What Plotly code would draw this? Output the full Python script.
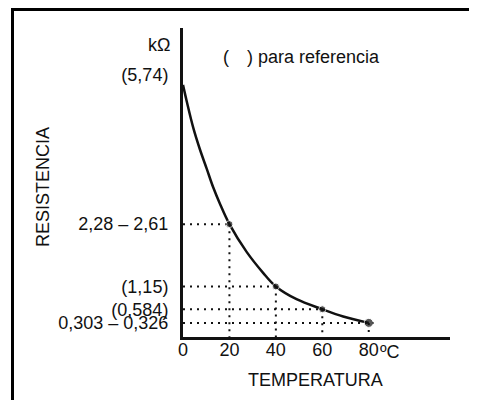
import plotly.graph_objects as go

# ---- data ----
curve_t = [0, 1.6, 4.4, 7.3, 10.2, 13.0, 15.9, 20, 27.4, 34.5, 40, 48.9, 60, 69, 80]
curve_r = [5.54, 5.18, 4.60, 4.12, 3.70, 3.29, 2.93, 2.48, 1.87, 1.41, 1.11, 0.83, 0.61, 0.45, 0.31]

point_t = [20, 40, 60, 80]
point_r = [2.48, 1.11, 0.61, 0.31]
hline_end = [20, 40, 60, 82.5]

y_tickvals = [5.76, 2.48, 1.11, 0.61, 0.31]
y_ticktext = ["(5,74)", "2,28 – 2,61", "(1,15)", "(0,584)", "0,303 – 0,326"]
x_tickvals = [0, 20, 40, 60, 80]
x_ticktext = ["0", "20", "40", "60", "80"]

FONT = "Liberation Sans, Arial, sans-serif"
INK = "#111111"
FS = 18

fig = go.Figure()

# dotted guide lines
for t, r, xe in zip(point_t, point_r, hline_end):
    fig.add_trace(go.Scatter(x=[0, xe], y=[r, r], mode="lines",
                             line=dict(color=INK, width=2, dash="2px,5px"),
                             hoverinfo="skip", showlegend=False))
    fig.add_trace(go.Scatter(x=[t, t], y=[r, 0], mode="lines",
                             line=dict(color=INK, width=2, dash="2px,5px"),
                             hoverinfo="skip", showlegend=False))

# curve
fig.add_trace(go.Scatter(x=curve_t, y=curve_r, mode="lines",
                         line=dict(color=INK, width=2.5, shape="spline", smoothing=1.0),
                         showlegend=False))
# points
fig.add_trace(go.Scatter(x=point_t, y=point_r, mode="markers",
                         marker=dict(color=INK, size=[7, 7, 7, 9]),
                         showlegend=False))

# page has an 8px body margin: work in screen pixels, convert to figure pixels
OFF = 8
W, H = 477 - OFF, 400 - OFF
L, T = 183 - OFF, 28 - OFF
R = W - (450 - OFF)
B = H - (337 - OFF)
pw, ph = W - L - R, H - T - B


def px(xs):
    return (xs - OFF - L) / pw


def py(ys):
    return (H - B - (ys - OFF)) / ph


fig.update_layout(
    width=W, height=H,
    margin=dict(l=L, r=R, t=T, b=B),
    paper_bgcolor="white", plot_bgcolor="white",
    font=dict(family=FONT, size=FS, color=INK),
    xaxis=dict(range=[0, 115], showgrid=False, zeroline=False,
               showline=True, linecolor=INK, linewidth=2.5,
               tickvals=x_tickvals, ticktext=x_ticktext, ticks="",
               ticklabelstandoff=-5, tickfont=dict(size=FS)),
    yaxis=dict(range=[0, 6.79], showgrid=False, zeroline=False,
               showline=True, linecolor=INK, linewidth=3,
               tickvals=y_tickvals, ticktext=y_ticktext, ticks="",
               ticklabelstandoff=8, tickfont=dict(size=FS)),
    showlegend=False,
)

ann = [
    dict(text="ºC", x=px(378), y=py(352), xanchor="left", yanchor="middle"),
    dict(text="TEMPERATURA", x=px(315), y=py(380), xanchor="center", yanchor="middle"),
    dict(text="RESISTENCIA", x=px(43), y=py(187), xanchor="center", yanchor="middle",
         textangle=-90),
    dict(text="kΩ", x=px(172), y=py(45), xanchor="right", yanchor="middle"),
    dict(text="(", x=px(221), y=py(57), xanchor="left", yanchor="middle"),
    dict(text=") para referencia", x=px(245), y=py(57), xanchor="left", yanchor="middle"),
]
for a in ann:
    fig.add_annotation(xref="paper", yref="paper", showarrow=False,
                       font=dict(family=FONT, size=FS, color=INK), **a)

# frame (left and top edges)
fig.add_shape(type="line", xref="paper", yref="paper",
              x0=px(12.5), x1=px(12.5), y0=py(9.5), y1=py(420),
              line=dict(color="black", width=3))
fig.add_shape(type="line", xref="paper", yref="paper",
              x0=px(11), x1=px(500), y0=py(9.5), y1=py(9.5),
              line=dict(color="black", width=3))

fig.write_html("out.html")
